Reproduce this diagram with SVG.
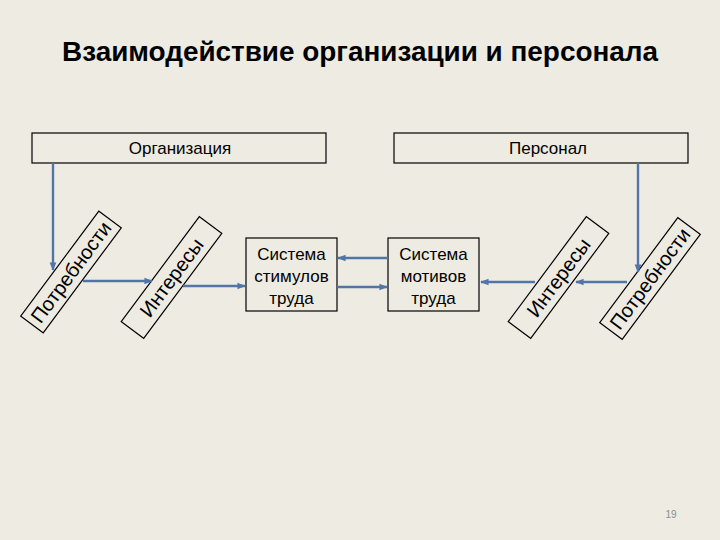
<svg xmlns="http://www.w3.org/2000/svg" width="720" height="540" viewBox="0 0 720 540">
<defs>
<style>
.bg{fill:#EEEBE2}
.box{fill:none;stroke:#000;stroke-width:1.2}
.t{font-family:"Liberation Sans","DejaVu Sans",sans-serif;fill:#000;text-anchor:middle}
.lbl{font-size:17px}
.rot{font-size:20px}
.title{font-size:27px;font-weight:bold}
.con{stroke:#5275A8;stroke-width:2.4;fill:none;marker-end:url(#ah)}
</style>
<marker id="ah" viewBox="0 0 10 10" refX="9" refY="5" markerWidth="3.5" markerHeight="3.5" orient="auto" markerUnits="strokeWidth">
<path d="M0,1 L10,5 L0,9 z" fill="#5275A8"/>
</marker>
</defs>
<rect class="bg" x="0" y="0" width="720" height="540"/>
<text class="t title" x="360" y="61" textLength="596" lengthAdjust="spacingAndGlyphs">Взаимодействие организации и персонала</text>

<g id="org">
<rect class="box" x="32" y="133" width="294" height="30"/>
<text class="t lbl" x="180" y="154">Организация</text>
</g>
<g id="pers">
<rect class="box" x="394" y="133" width="294" height="30"/>
<text class="t lbl" x="548" y="154">Персонал</text>
</g>

<g id="needs-left" transform="translate(71,272) rotate(-53.4)">
<rect class="box" x="-65.5" y="-14" width="131" height="28"/>
<text class="t rot" x="0" y="7">Потребности</text>
</g>
<g id="interests-left" transform="translate(171.5,277.5) rotate(-53.4)">
<rect class="box" x="-65.5" y="-14" width="131" height="28"/>
<text class="t rot" x="0" y="7">Интересы</text>
</g>
<g id="interests-right" transform="translate(558.5,277.5) rotate(-53.4)">
<rect class="box" x="-65.5" y="-14" width="131" height="28"/>
<text class="t rot" x="0" y="7">Интересы</text>
</g>
<g id="needs-right" transform="translate(650,278.5) rotate(-53.4)">
<rect class="box" x="-65.5" y="-14" width="131" height="28"/>
<text class="t rot" x="0" y="7">Потребности</text>
</g>

<g id="stimuli">
<rect class="box" x="246" y="238" width="91" height="73"/>
<text class="t lbl" x="291.5" y="260">Система</text>
<text class="t lbl" x="291.5" y="282">стимулов</text>
<text class="t lbl" x="291.5" y="304">труда</text>
</g>
<g id="motives">
<rect class="box" x="388" y="238" width="91" height="73"/>
<text class="t lbl" x="433.5" y="260">Система</text>
<text class="t lbl" x="433.5" y="282">мотивов</text>
<text class="t lbl" x="433.5" y="304">труда</text>
</g>

<g id="connectors">
<path class="con" d="M53,163 V270"/>
<path class="con" d="M83,281 H152"/>
<path class="con" d="M183,286 H245"/>
<path class="con" d="M388,258 H338"/>
<path class="con" d="M337,287 H387"/>
<path class="con" d="M535,282 H481"/>
<path class="con" d="M627,282 H576"/>
<path class="con" d="M638,163 V272"/>
</g>

<text x="671" y="518" style="font-family:'Liberation Sans',sans-serif;font-size:10px;fill:#8C8C8C;text-anchor:middle">19</text>
</svg>
